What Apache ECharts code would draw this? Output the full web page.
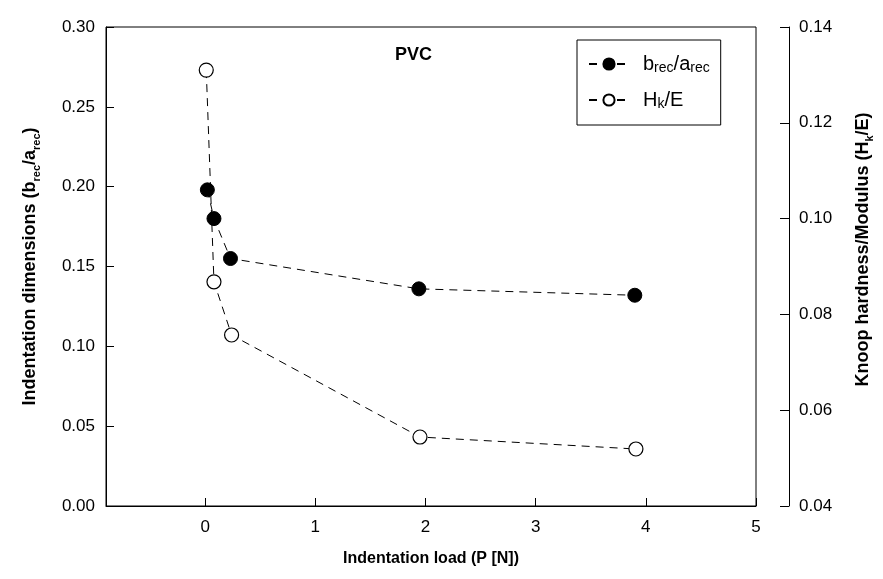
<!DOCTYPE html>
<html>
<head>
<meta charset="utf-8">
<script src="https://cdn.jsdelivr.net/npm/echarts@6/dist/echarts.min.js"></script>
<style>
    html, body { margin: 0; padding: 0; background: #fff; }
    #chart { width: 883px; height: 579px; }
</style>
</head>
<body>
<div id="chart"></div>
<script>
var xTicks = [0, 1, 2, 3, 4, 5];
var ratioLoads = [0.02, 0.08, 0.23, 1.94, 3.9];
var ratioValues = [0.198, 0.180, 0.155, 0.136, 0.132];
var hardLoads = [0.01, 0.08, 0.24, 1.95, 3.91];
var hardValues = [0.131, 0.0868, 0.0757, 0.0544, 0.0519];

var FONT = 'Liberation Sans, Arial, sans-serif';

function pairs(xs, ys) {
    var res = [];
    for (var i = 0; i < xs.length; i++) {
        res.push([xs[i], ys[i]]);
    }
    return res;
}

// bold title text with subscripts
var titleRich = {
    n: { fontFamily: FONT, fontSize: 18, fontWeight: 'bold', color: '#000', lineHeight: 24 },
    s: { fontFamily: FONT, fontSize: 11, fontWeight: 'bold', color: '#000', lineHeight: 24, verticalAlign: 'bottom', padding: [9, 0, 0, 0] }
};

var myChart = echarts.init(document.getElementById('chart'));

var option = {
    backgroundColor: '#fff',
    animation: false,
    textStyle: { fontFamily: FONT },
    title: {
        text: 'PVC',
        left: 390,
        top: 41,
        textStyle: { fontFamily: FONT, fontSize: 18, fontWeight: 'bold', color: '#000' }
    },
    legend: {
        orient: 'vertical',
        left: 577,
        top: 40,
        padding: [12, 11, 14, 11],
        itemGap: 13,
        itemWidth: 40,
        itemHeight: 14,
        borderColor: '#000',
        borderWidth: 1,
        data: ['ratio', 'hard'],
        formatter: function (name) {
            if (name === 'ratio') {
                return '{g|}{n|b}{s|rec}{n|/a}{s|rec}'
            }
            return '{g|}{n|H}{s|k}{n|/E}'
        },
        textStyle: {
            rich: {
                g: { width: 9 },
                n: { fontFamily: FONT, fontSize: 20, color: '#000', lineHeight: 22 },
                s: { fontFamily: FONT, fontSize: 14, color: '#000', lineHeight: 22, verticalAlign: 'bottom', padding: [9, 0, 0, 0] }
            }
        }
    },
    grid: {
        left: 106,
        right: 121,
        top: 27,
        bottom: 73,
        show: true,
        borderColor: '#000',
        borderWidth: 1
    },
    xAxis: {
        type: 'value',
        min: -0.9,
        max: 5,
        name: 'Indentation load (P [N])',
        nameLocation: 'middle',
        nameGap: 45,
        nameTextStyle: { fontFamily: FONT, fontSize: 16, fontWeight: 'bold', color: '#000' },
        splitLine: { show: false },
        axisLine: { onZero: false, lineStyle: { color: '#000' } },
        axisTick: { inside: true, length: 8, customValues: xTicks, lineStyle: { color: '#000' } },
        axisLabel: { customValues: xTicks, fontFamily: FONT, fontSize: 17, color: '#000', margin: 13 }
    },
    yAxis: [{
        type: 'value',
        min: 0,
        max: 0.30,
        interval: 0.05,
        position: 'left',
        name: '{n|Indentation dimensions (b}{s|rec}{n|/a}{s|rec}{n|)}',
        nameLocation: 'middle',
        nameRotate: 90,
        nameGap: 64,
        nameTextStyle: { rich: titleRich },
        splitLine: { show: false },
        axisLine: { show: true, onZero: false, lineStyle: { color: '#000' } },
        axisTick: { inside: true, length: 8, lineStyle: { color: '#000' } },
        axisLabel: {
            fontFamily: FONT, fontSize: 17, color: '#000', margin: 11,
            formatter: function (v) { return v.toFixed(2) }
        }
    }, {
        type: 'value',
        min: 0.04,
        max: 0.14,
        interval: 0.02,
        position: 'right',
        offset: 33,
        name: '{n|Knoop hardness/Modulus (H}{s|k}{n|/E)}',
        nameLocation: 'middle',
        nameRotate: 90,
        nameGap: 62,
        nameTextStyle: { rich: titleRich, padding: [0, 0, 0, 34] },
        splitLine: { show: false },
        axisLine: { show: true, onZero: false, lineStyle: { color: '#000' } },
        axisTick: { inside: true, length: 9, lineStyle: { color: '#000' } },
        axisLabel: {
            fontFamily: FONT, fontSize: 17, color: '#000', margin: 10,
            formatter: function (v) { return v.toFixed(2) }
        }
    }],
    series: [{
        name: 'ratio',
        type: 'line',
        yAxisIndex: 0,
        data: pairs(ratioLoads, ratioValues),
        symbol: 'circle',
        symbolSize: 14,
        itemStyle: { color: '#000', borderColor: '#000', borderWidth: 1 },
        lineStyle: { color: '#000', width: 1, type: [8, 6] }
    }, {
        name: 'hard',
        type: 'line',
        yAxisIndex: 1,
        data: pairs(hardLoads, hardValues),
        symbol: 'circle',
        symbolSize: 14,
        itemStyle: { color: '#fff', borderColor: '#000', borderWidth: 1.2 },
        lineStyle: { color: '#000', width: 1, type: [8, 6] }
    }]
};
myChart.setOption(option);
</script>
</body>
</html>
